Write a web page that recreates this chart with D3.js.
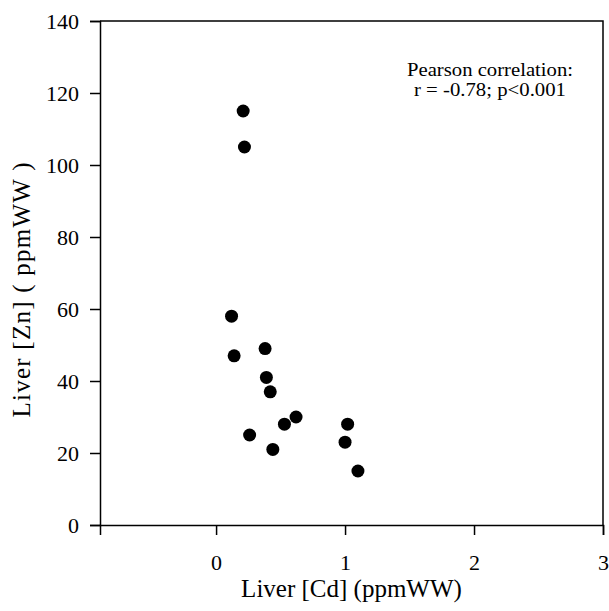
<!DOCTYPE html>
<html>
<head>
<meta charset="utf-8">
<script src="https://cdn.jsdelivr.net/npm/d3@7"></script>
<style>
  body { margin: 0; background: #fff; }
  text { font-family: "Liberation Serif", "Times New Roman", serif; fill: #000; }
</style>
</head>
<body>
<div id="chart"></div>
<script>
// DATA
var cd = [0.21, 0.22, 0.12, 0.14, 0.38, 0.39, 0.42, 0.62, 0.53, 0.26, 0.44, 1.02, 1.00, 1.10];
var zn = [115, 105, 58, 47, 49, 41, 37, 30, 28, 25, 21, 28, 23, 15];
var xTicks = [0, 1, 2, 3];
var yTicks = [0, 20, 40, 60, 80, 100, 120, 140];
var xLabel = "Liver [Cd] (ppmWW)";
var yLabel = "Liver [Zn] ( ppmWW )";
var note = ["Pearson correlation:", "r = -0.78; p<0.001"];

// SIZES
var width = 609, height = 611;
var margin = {top: 21, right: 6, bottom: 86, left: 100};
var c_width = width - margin.left - margin.right;
var c_height = height - margin.top - margin.bottom;

var svg = d3.select("#chart").append("svg")
    .attr("width", width)
    .attr("height", height);
var g = svg.append("g").attr("transform", "translate(" + margin.left + "," + margin.top + ")");

var x = d3.scaleLinear().domain([-0.9, 3]).range([0, c_width]);
var y = d3.scaleLinear().domain([0, 140]).range([c_height, 0]);

/* AXIS */
var xaxis = g.append("g")
    .attr("transform", "translate(0," + c_height + ")")
    .call(d3.axisBottom(x).tickValues(xTicks).tickFormat(d3.format("d")).tickSize(10).tickPadding(19));
var yaxis = g.append("g")
    .call(d3.axisLeft(y).tickValues(yTicks).tickSize(10).tickPadding(11));

[xaxis, yaxis].forEach(function(a) {
    a.attr("font-family", null);
    a.selectAll("path").attr("stroke", "#000").attr("stroke-width", 1.5);
    a.selectAll("line").attr("stroke", "#000").attr("stroke-width", 1.5);
    a.selectAll("text").attr("font-family", "Liberation Serif").style("font-size", "22px").attr("fill", "#000");
});

// box top and right
g.append("path")
    .attr("d", "M0,0H" + c_width + "V" + c_height)
    .attr("fill", "none")
    .attr("stroke", "#000")
    .attr("stroke-width", 1.5);

/* POINTS */
g.selectAll(".dot")
    .data(cd.map(function(d, i) { return {x: d, y: zn[i]}; }))
    .enter().append("circle")
    .attr("class", "dot")
    .attr("cx", function(d) { return x(d.x); })
    .attr("cy", function(d) { return y(d.y); })
    .attr("r", 6.5)
    .attr("fill", "#000");

/* LABELS */
svg.append("text")
    .attr("x", margin.left + c_width / 2)
    .attr("y", 597)
    .attr("text-anchor", "middle")
    .style("font-size", "25px")
    .text(xLabel);

svg.append("text")
    .attr("transform", "translate(30," + 290 + ") rotate(-90)")
    .attr("text-anchor", "middle")
    .style("font-size", "25px")
    .attr("textLength", 255)
    .attr("lengthAdjust", "spacing")
    .text(yLabel);

svg.append("g").selectAll("text")
    .data(note)
    .enter().append("text")
    .attr("x", 490)
    .attr("y", function(d, i) { return 76 + i * 19.5; })
    .attr("text-anchor", "middle")
    .style("font-size", "19px")
    .attr("textLength", function(d, i) { return i == 0 ? 166 : 152; })
    .attr("lengthAdjust", "spacingAndGlyphs")
    .text(function(d) { return d; });
</script>
</body>
</html>
